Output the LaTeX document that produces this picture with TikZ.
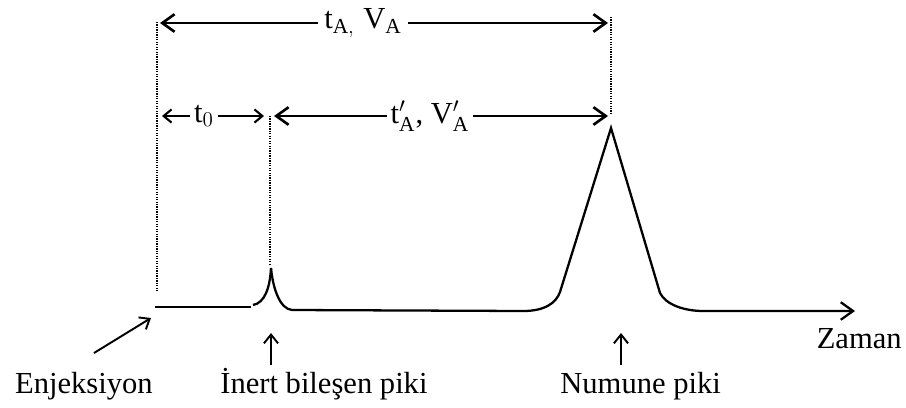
\documentclass[tikz,border=0pt]{standalone}
\usepackage{fontspec}
\setmainfont{Liberation Serif}
\usetikzlibrary{arrows.meta}

\begin{document}
\begin{tikzpicture}[x=0.02cm, y=0.02cm, font=\fontsize{17.4}{20}\selectfont,
		olcu/.style={line width=1.5pt, -{Straight Barb[length=7pt, width=10pt, line width=1.5pt]}},
		kisa/.style={line width=1.2pt, -{Straight Barb[length=4.5pt, width=7.5pt, line width=1.2pt]}},
		isaret/.style={line width=1.1pt, -{Straight Barb[length=5pt, width=8pt, line width=1.1pt]}},
		kilavuz/.style={line width=0.7pt, dash pattern=on 0.7pt off 0.7pt},
		egri/.style={line width=1.3pt},
		etiket/.style={inner sep=0pt}]
		\useasboundingbox (0,0) rectangle (906,407);
		\coordinate (enj) at (155,100);
		\coordinate (inert) at (271,139);
		\coordinate (numune) at (611,279);
		\coordinate (zaman) at (855,96);
		\draw[kilavuz] (157,385) -- (157,116);
		\draw[kilavuz] (270,291) -- (270,141);
		\draw[kilavuz] (611,390) -- (611,292);
		\node (tA) at (363,384) {t$_{\mathrm{A,}}$\;V$_{\mathrm{A}}$};
		\draw[olcu] (tA.west) -- (160,384);
		\draw[olcu] (tA.east) -- (608,384);
		\node[inner sep=2pt] (t0) at (204,291) {t$_0$};
		\draw[kisa] (t0.west) -- (162,291);
		\draw[kisa] (t0.east) -- (264,291);
		\node[inner sep=2pt] (tAp) at (430,291) {t$'_{\mathrm{A}}$, V$'_{\mathrm{A}}$};
		\draw[olcu] (tAp.west) -- (274,291);
		\draw[olcu] (tAp.east) -- (608,291);
		\draw[egri] (enj) -- (251,100);
		\draw[egri] (253,102) .. controls (265,104) and (270,120) .. (inert);
		\draw[egri, -{Straight Barb[length=7pt, width=10pt, line width=1.3pt]}] (inert) .. controls (273,118) and (280,98) .. (292,97) -- (523,96) .. controls (545,96) and (556,104) .. (560,115) -- (numune) -- (660,114) .. controls (666,102) and (685,96) .. (703,96) -- (zaman);
		\node[etiket, anchor=base east] (zamanlbl) at (902,59) {Zaman};
		\node[etiket, anchor=base east] (enjlbl) at (153,14) {Enjeksiyon};
		\node[etiket, anchor=base west] (inertlbl) at (220,14) {İnert bileşen piki};
		\node[etiket, anchor=base west] (numunelbl) at (560,14) {Numune piki};
		\coordinate (enjuc) at (94,54);
		\coordinate (inertuc) at (271,42);
		\coordinate (numuneuc) at (621,42);
		\draw[isaret] (enjuc) -- (151,89);
		\draw[isaret] (inertuc) -- (271,74);
		\draw[isaret] (numuneuc) -- (621,74);
\end{tikzpicture}
\end{document}
